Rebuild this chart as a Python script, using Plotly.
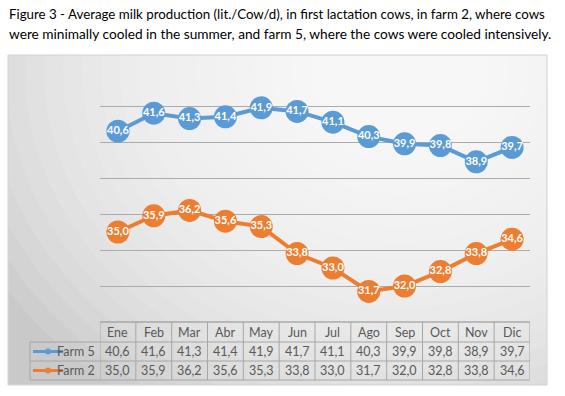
import plotly.graph_objects as go

months = ["Ene", "Feb", "Mar", "Abr", "May", "Jun", "Jul", "Ago", "Sep", "Oct", "Nov", "Dic"]
farm5 = [40.6, 41.6, 41.3, 41.4, 41.9, 41.7, 41.1, 40.3, 39.9, 39.8, 38.9, 39.7]
farm2 = [35.0, 35.9, 36.2, 35.6, 35.3, 33.8, 33.0, 31.7, 32.0, 32.8, 33.8, 34.6]
series = [("Farm 5", farm5, "#5b9bd5"), ("Farm 2", farm2, "#ed7d31")]
title_lines = ["Figure 3 - Average milk production (lit./Cow/d), in first lactation cows, in farm 2, where cows",
               "were minimally cooled in the summer, and farm 5, where the cows were cooled intensively."]

W, H = 565, 396
L, R, T, B = 100, 35, 70, 74
PW, PH = W - L - R, H - T - B


def px(xp):
    return (xp - L) / PW


def py(yp):
    return (H - B - yp) / PH


FONT = "Lato"
fig = go.Figure()
for name, vals, col in series:
    fig.add_trace(go.Scatter(
        x=months, y=vals, name=name, mode="lines+markers+text",
        line=dict(color=col, width=4),
        marker=dict(color=col, size=23),
        texttemplate="%{y:.1f}", textposition="middle center",
        textfont=dict(family=FONT, size=11, color="white", weight="bold"),
        showlegend=False, cliponaxis=False, hoverinfo="skip",
    ))

shapes = []
# chart background with radial gradient approximation
shapes.append(dict(type="rect", xref="paper", yref="paper", layer="below",
                   x0=px(8), x1=px(547), y0=py(385), y1=py(55),
                   fillcolor="#c9c9c9", line=dict(color="#d9d9d9", width=1)))
cx, cy = 400, 70
n = 22
for k in range(n):
    r = 470 - k * 19
    shapes.append(dict(type="circle", xref="paper", yref="paper", layer="below",
                       x0=px(cx - r), x1=px(cx + r), y0=py(cy + r * 0.85), y1=py(cy - r * 0.85),
                       fillcolor="white", opacity=0.1, line=dict(width=0)))
# cover outside of box with white
for (a, b, c, d) in [(0, 0, 8, H), (547, 0, W, H), (0, 0, W, 55), (0, 385, W, H)]:
    shapes.append(dict(type="rect", xref="paper", yref="paper", layer="below",
                       x0=px(a), x1=px(c), y0=py(d), y1=py(b),
                       fillcolor="white", line=dict(width=0)))
shapes.append(dict(type="rect", xref="paper", yref="paper", layer="below",
                   x0=px(8), x1=px(547), y0=py(385), y1=py(55),
                   fillcolor="rgba(0,0,0,0)", line=dict(color="#d0d0d0", width=1)))

# data table
tcol = "#a6a6a6"
rows_y = [322, 342, 361, 380]
shapes.append(dict(type="line", xref="paper", yref="paper", x0=px(100), x1=px(530),
                   y0=py(322), y1=py(322), line=dict(color="#8c8c8c", width=1)))
for yy in rows_y[1:]:
    shapes.append(dict(type="line", xref="paper", yref="paper", x0=px(30), x1=px(530),
                       y0=py(yy), y1=py(yy), line=dict(color=tcol, width=1)))
for i in range(len(months) + 1):
    shapes.append(dict(type="line", xref="x", yref="paper", x0=i - 0.5, x1=i - 0.5,
                       y0=py(380), y1=py(322), line=dict(color=tcol, width=1)))
shapes.append(dict(type="line", xref="paper", yref="paper", x0=px(30), x1=px(30),
                   y0=py(380), y1=py(342), line=dict(color=tcol, width=1)))

annotations = []
for line, yc, fs in zip(title_lines, [14, 33], [13.3, 13.7]):
    annotations.append(dict(text=line, xref="paper", yref="paper", x=px(7), y=py(yc),
                            xanchor="left", yanchor="middle", align="left", showarrow=False,
                            font=dict(family=FONT, size=fs, color="black")))
tfont = dict(family=FONT, size=12.5, color="#595959")
for i, m in enumerate(months):
    annotations.append(dict(text=m, xref="x", yref="paper", x=i, y=py(332),
                            yanchor="middle", showarrow=False, font=tfont))
row_c = [351.5, 370.5]
for (name, vals, col), yc in zip(series, row_c):
    for i, v in enumerate(vals):
        annotations.append(dict(text=f"{v:.1f}".replace(".", ","), xref="x", yref="paper",
                                x=i, y=py(yc), yanchor="middle", showarrow=False, font=tfont))
    annotations.append(dict(text=name, xref="paper", yref="paper", x=px(97), y=py(yc),
                            xanchor="right", yanchor="middle", showarrow=False, font=tfont))
    shapes.append(dict(type="line", xref="paper", yref="paper", x0=px(33), x1=px(63),
                       y0=py(yc), y1=py(yc), line=dict(color=col, width=3)))
    shapes.append(dict(type="circle", xref="paper", yref="paper", x0=px(45), x1=px(51),
                       y0=py(yc + 3), y1=py(yc - 3), fillcolor=col, line=dict(width=0)))

fig.update_layout(
    width=W, height=H, margin=dict(l=L, r=R, t=T, b=B),
    paper_bgcolor="white", plot_bgcolor="rgba(0,0,0,0)",
    separators=",.", hovermode=False,
    xaxis=dict(range=[-0.5, 11.5], showticklabels=False, showgrid=False, zeroline=False,
               ticks="", showline=False),
    yaxis=dict(range=[30, 44], dtick=2, showticklabels=False, showgrid=True,
               gridcolor="#ababab", gridwidth=1, zeroline=False, ticks=""),
    shapes=shapes, annotations=annotations,
)
fig.write_html("out.html", config={"displayModeBar": False},
               post_script="document.body.style.margin='0';")
